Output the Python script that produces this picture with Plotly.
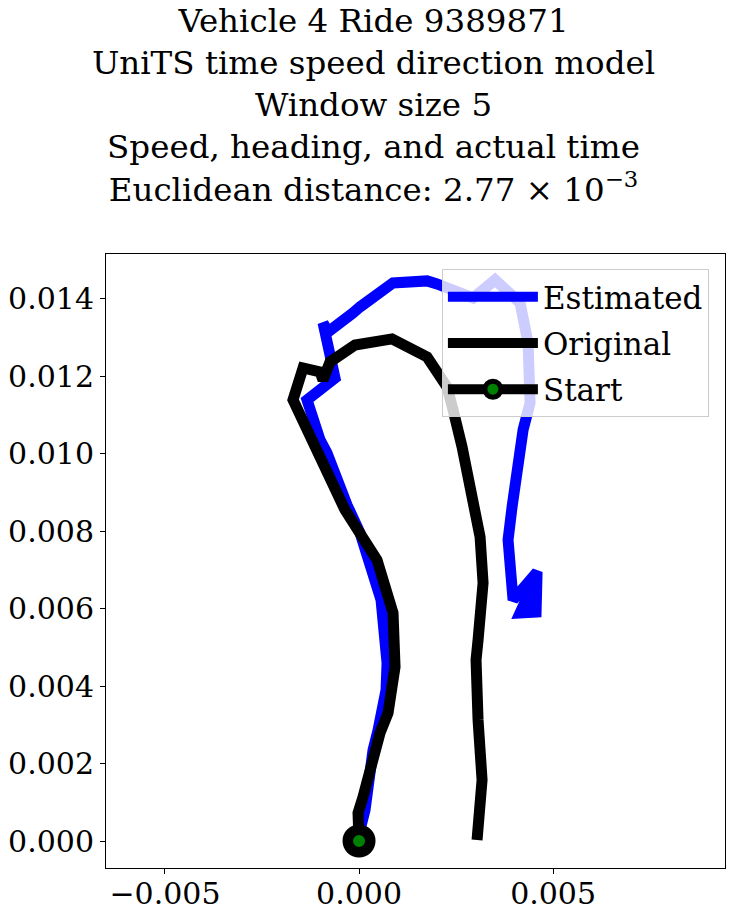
import plotly.graph_objects as go

# Estimated trajectory (blue)
est_x = [0.0, 0.0000258, 0.000155, 0.000232, 0.000361, 0.00049, 0.000696, 0.000722,
         0.000644, 0.000567, 0.0000258, -0.000309, -0.000825, -0.001005, -0.00134,
         -0.000619, -0.000928, -0.000799, -0.000155, 0.0000258, 0.000876, 0.001753,
         0.00201, 0.002938, 0.003505, 0.00415, 0.004356, 0.004407, 0.004227, 0.004072,
         0.003943, 0.00384, 0.003969, 0.004588, 0.004562, 0.00415, 0.004536, 0.004485]
est_y = [0.0, 0.000284, 0.000801, 0.001576, 0.002351, 0.002867, 0.0039, 0.004598,
         0.005708, 0.006225, 0.007956, 0.008679, 0.010022, 0.010358, 0.011391,
         0.011959, 0.01338, 0.013147, 0.013638, 0.013793, 0.014413, 0.014465,
         0.014387, 0.014026, 0.014491, 0.013896, 0.012863, 0.011313, 0.010616, 0.009712,
         0.008627, 0.007775, 0.006225, 0.006948, 0.005915, 0.005889, 0.006742, 0.005915]

# Original trajectory (black)
orig_x = [0.0, -0.000026, 0.000103, 0.000335, 0.000541, 0.000747, 0.000928, 0.000876,
          0.000464, -0.000361, -0.001186, -0.001701, -0.001443, -0.001005, -0.000928,
          -0.000747, -0.000103, 0.00085, 0.001753, 0.002268, 0.002423, 0.002655,
          0.003119, 0.003196, 0.003067, 0.003015, 0.003067, 0.00317, 0.003041]
orig_y = [0.0, 0.000723, 0.001137, 0.002092, 0.00279, 0.003306, 0.004494, 0.005889,
          0.007258, 0.00855, 0.010358, 0.011391, 0.012218, 0.012114, 0.011907,
          0.012372, 0.012811, 0.012967, 0.012502, 0.011727, 0.011133, 0.010177,
          0.007852, 0.006664, 0.005192, 0.004675, 0.003125, 0.001576, 0.000026]

start_x = [0.0]
start_y = [0.0]

title_lines = [
    "Vehicle 4 Ride 9389871",
    "UniTS time speed direction model",
    "Window size 5",
    "Speed, heading, and actual time",
    "Euclidean distance: 2.77 × 10<sup>−3</sup>",
]

FONT = "DejaVu Serif"

fig = go.Figure()
fig.add_trace(go.Scatter(x=est_x, y=est_y, mode="lines", name="Estimated",
                         legendgroup="a",
                         line=dict(color="#0000ff", width=11)))
fig.add_trace(go.Scatter(x=orig_x, y=orig_y, mode="lines", name="Original",
                         legendgroup="b",
                         line=dict(color="#000000", width=11)))
fig.add_trace(go.Scatter(x=start_x, y=start_y, mode="lines+markers", name="Start",
                         legendgroup="c",
                         line=dict(color="#000000", width=11),
                         marker=dict(size=22.5, color="green", symbol="circle",
                                     line=dict(color="#000000", width=10.5))))

axis_common = dict(
    showgrid=False, zeroline=False, showline=True, mirror=True,
    linecolor="black", linewidth=1, ticks="outside", ticklen=5,
    tickcolor="black", tickwidth=1, automargin=False,
    tickfont=dict(family=FONT, size=30, color="black"),
    tickformat=".3f",
)

fig.update_layout(
    width=747, height=916,
    margin=dict(l=106, r=22, t=254, b=48),
    paper_bgcolor="white", plot_bgcolor="white",
    font=dict(family=FONT, color="black"),
    title=dict(text="<br>".join(title_lines), x=0.5, xanchor="center",
               xref="container", yref="container",
               y=0.9655, yanchor="top",
               font=dict(family=FONT, size=32.5, color="black")),
    xaxis=dict(range=[-0.00652, 0.00943], dtick=0.005, tick0=0,
               ticklabelstandoff=-6, **axis_common),
    yaxis=dict(range=[-0.000697, 0.01516], dtick=0.002, tick0=0, **axis_common),
    legend=dict(x=0.974, y=0.9756, xanchor="right", yanchor="top",
                bgcolor="rgba(255,255,255,0.8)", bordercolor="#cccccc",
                borderwidth=1, itemwidth=90, tracegroupgap=3,
                font=dict(family=FONT, size=31, color="black")),
    showlegend=True,
)

fig.write_html("out.html")
